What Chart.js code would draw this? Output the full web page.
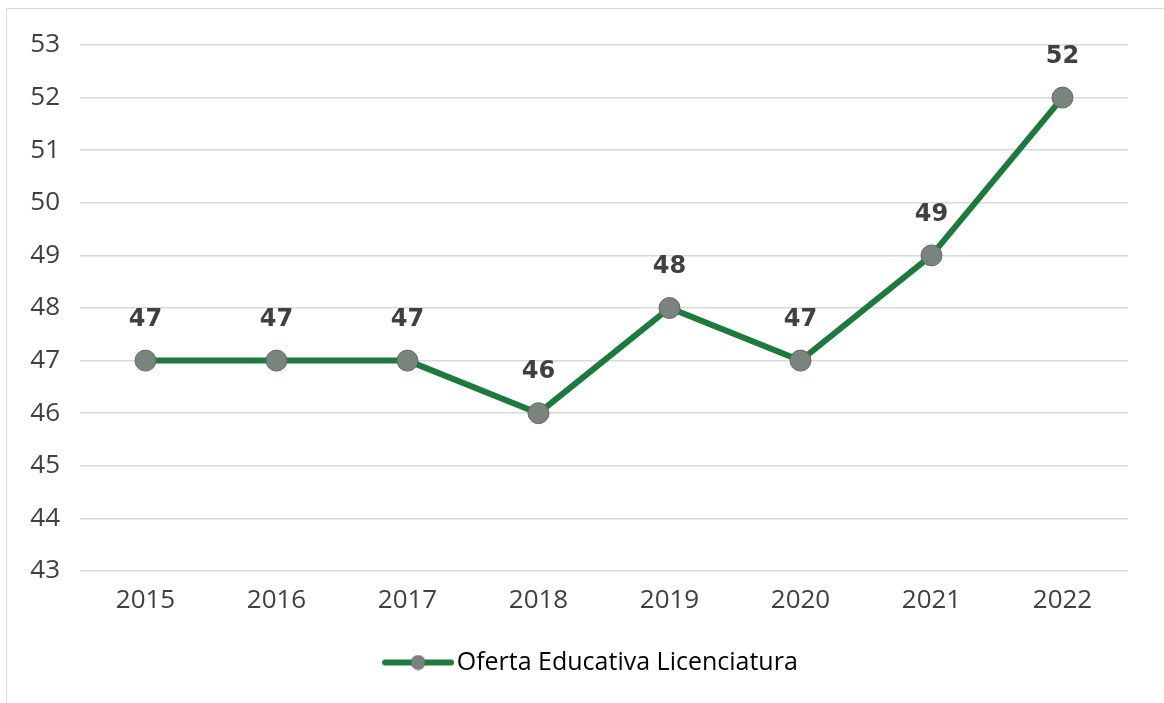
<!DOCTYPE html>
<html>
<head>
<meta charset="utf-8">
<script src="https://cdn.jsdelivr.net/npm/chart.js@4"></script>
<style>
  html, body { margin: 0; padding: 0; background: #fff; }
  #wrap { position: relative; width: 1164px; height: 703px; }
  #frame { position: absolute; left: 6px; top: 8px; right: 0; bottom: 0;
           border-left: 1px solid #d9d9d9; border-top: 1px solid #d9d9d9; }
  #oferta { position: absolute; left: 0; top: 0; }
</style>
</head>
<body>
<div id="wrap">
  <div id="frame"></div>
  <canvas id="oferta" width="1164" height="703"></canvas>
</div>
<script>
const years = ["2015","2016","2017","2018","2019","2020","2021","2022"];
const oferta = [47, 47, 47, 46, 48, 47, 49, 52];
const serie = "Oferta Educativa Licenciatura";

const verde = "#1b7a3c";
const gris = "#7a847c";
const texto = "#404040";

// little line+dot marker for the legend
function legendMark() {
  const c = document.createElement("canvas");
  c.width = 72; c.height = 16;
  const g = c.getContext("2d");
  g.strokeStyle = verde;
  g.lineWidth = 6;
  g.lineCap = "round";
  g.beginPath(); g.moveTo(3, 8); g.lineTo(69, 8); g.stroke();
  g.fillStyle = gris;
  g.strokeStyle = "#5f6b62";
  g.lineWidth = 1;
  g.beginPath(); g.arc(36, 8, 7, 0, Math.PI * 2); g.fill(); g.stroke();
  return c;
}

// value labels above each point
const etiquetas = {
  id: "etiquetas",
  afterDatasetsDraw(chart) {
    const ctx = chart.ctx;
    const meta = chart.getDatasetMeta(0);
    ctx.save();
    ctx.font = "bold 24px 'DejaVu Sans'";
    ctx.fillStyle = texto;
    ctx.textAlign = "center";
    ctx.textBaseline = "middle";
    meta.data.forEach((pt, i) => {
      ctx.fillText(String(oferta[i]), pt.x, pt.y - 41);
    });
    ctx.restore();
  }
};

// nudge the legend box right so it sits under the middle of the plot
const legendShift = {
  id: "legendShift",
  afterLayout(chart) {
    chart.legend.left += 31;
    chart.legend.right += 31;
  }
};

new Chart(document.getElementById("oferta"), {
  type: "line",
  data: {
    labels: years,
    datasets: [{
      label: serie,
      data: oferta,
      borderColor: verde,
      borderWidth: 6,
      pointRadius: 10.5,
      pointHoverRadius: 10.5,
      pointBackgroundColor: gris,
      pointBorderColor: "#5f6b62",
      pointBorderWidth: 1,
      tension: 0
    }]
  },
  options: {
    responsive: false,
    animation: false,
    layout: { padding: { top: 45, right: 36, left: 0, bottom: 18 } },
    plugins: {
      tooltip: { enabled: false },
      legend: {
        position: "bottom",
        labels: {
          usePointStyle: true,
          pointStyleWidth: 52,
          color: "#595959",
          font: { family: "'Open Sans'", size: 25 },
          padding: 10,
          generateLabels(chart) {
            return [{
              text: serie,
              pointStyle: legendMark(),
              fillStyle: gris,
              strokeStyle: verde,
              lineWidth: 0,
              datasetIndex: 0
            }];
          }
        }
      }
    },
    scales: {
      x: {
        offset: true,
        grid: { display: false, drawTicks: false },
        border: { display: false },
        ticks: { color: texto, font: { family: "'Open Sans'", size: 26 }, padding: 14 },
        afterFit(s) { s.height = 69; }
      },
      y: {
        min: 43,
        max: 53,
        ticks: { stepSize: 1, color: texto, font: { family: "'Open Sans'", size: 26 }, padding: 20 },
        grid: { color: "#d9d9d9", lineWidth: 1.5, drawTicks: false },
        border: { display: false },
        afterFit(s) { s.width = 80; }
      }
    }
  },
  plugins: [etiquetas, legendShift]
});
</script>
</body>
</html>
